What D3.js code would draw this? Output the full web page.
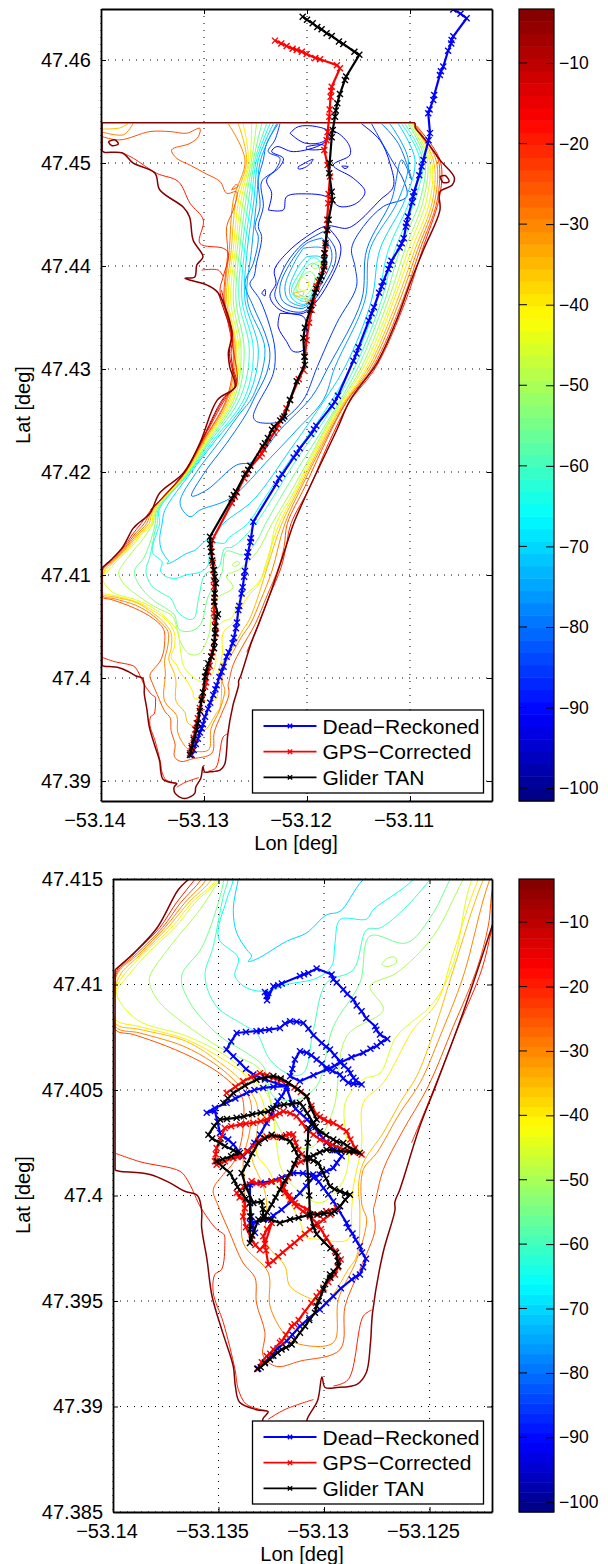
<!DOCTYPE html>
<html lang="en">
<head>
  <meta charset="UTF-8">
  <title>Glider TAN tracks over bathymetry</title>
  <script src="https://d3js.org/d3.v7.min.js"></script>
  <style>
    body, html { margin: 0; padding: 0; background: #fff; }
    svg { display: block; }
    text { font-family: 'Liberation Sans', Arial, sans-serif; fill: #000; }
    .axis path { stroke: #000; stroke-width: 1.8; fill: none; }
    .axis line { stroke: #000; stroke-width: 1; }
    .grid line { stroke: #000; stroke-width: 1; stroke-dasharray: 1,6; }
    .contour { fill: none; stroke-linejoin: round; }
    .track { fill: none; stroke-linejoin: round; stroke-width: 2.2; }
    .mark { fill: none; stroke-width: 1.4; }
  </style>
</head>
<body>
<svg width="608" height="1564"></svg>
<script>
// all positions are offsets from this origin, in units of 1e-4 degrees
const lon0 = -53.14, lat0 = 47.39;

const topXTicks = [-53.14, -53.13, -53.12, -53.11];
const topYTicks = [47.39, 47.40, 47.41, 47.42, 47.43, 47.44, 47.45, 47.46];
const lowXTicks = [-53.14, -53.135, -53.13, -53.125];
const lowYTicks = [47.385, 47.39, 47.395, 47.40, 47.405, 47.41, 47.415];
const barTicks = [-10, -20, -30, -40, -50, -60, -70, -80, -90, -100];
const legendNames = ["Dead\u2212Reckoned", "GPS\u2212Corrected", "Glider TAN"];
const trackColors = ["#0000ff", "#ff0000", "#000000"];

// depth contours
const shoreTop = [[1,612],[1,630],[1,638],[1.5,639],[3,639],[150,639],[302,639],[304.5,639],[305,638],[305,634]];
const shore = [[305,634],[316.5,620.4],[329,603],[343,586],[341,578.6],[329,572],[329,554],[313,515.5],[300,483],[287,447.6],[268,406],[242,370],[229,341],[200,279.6],[187,250],[179.6,227.6],[166,187],[153.5,153.5],[145.5,133],[136,103],[133.6,97],[133.6,93],[128,73],[123,44.5],[122,30],[120,16],[115.6,10.5],[106,9],[100.5,9],[99,14],[97,3],[92,-6],[91,-12],[81,-17],[72,-12],[71,-6],[73.5,-2.5],[68,-1.5],[60,2],[58,9.5],[57,19],[52,35],[47,52],[44.5,70],[42,85],[42,93],[40,100],[34,102],[27,106],[17.5,110],[3,111.5],[1,112]];
const shoreEdge = [[1,112],[1,207]];
const shoreWest = [[1,207],[10,215],[21,227],[31,245],[36,250],[47.6,260],[57,279.6],[80,299],[96,328],[113,370],[130,382.5],[125,402],[123.6,415.5],[127,435],[113.6,474],[103,481.5],[81.5,488],[91,489.3],[93,501],[99,509],[89.5,525],[86,547.6],[80,557],[57,574],[52.4,590],[31,600],[21,609.7],[3,610.5],[1,612]];
const shorePond1 = [[7,620.7],[13.6,622.4],[16.8,618.5],[10.3,616.9],[7,620.7]];
const shorePond2 = [[329,586.8],[334,587.8],[338,582],[332.3,581],[329,586.8]];
const c10 = [[113.9,473.5],[120.4,454],[126.8,434.7],[124.6,415.3],[126.8,402.3],[130.7,383],[118.7,371.6],[96.4,328],[80.2,298.7],[47.9,263]];
const c15 = [[117,476.8],[122,454],[127.8,434.7],[126.2,415.3],[127.8,402.3],[131.7,384.5],[120.4,372.6],[96.7,328],[80.9,298.7],[48.2,263]];
const c20a = [[21.7,609.4],[31.4,604.6],[54,590],[75,582],[86.4,561],[99.3,544.7],[96,522],[118.7,517.2],[123.6,512.4],[118.7,489.7],[115.5,476.8],[122,450.9],[128.4,418.5],[131.7,386],[122,373.2],[97,328],[80.6,299],[48.5,263],[38.8,249.8],[30,238.7],[22.2,227],[10.4,215],[1,205],[1,178]];
const c20b = [[1.2,120],[12.8,116],[31.7,111.5],[35.2,107.5],[38,102],[41.2,95],[49.1,84],[52.6,81.5],[53,77.6],[51.5,65],[48.3,62.6],[47.5,54],[52.3,39.7],[57.8,17.6],[59.4,8],[63.3,1],[72.8,-2]];
const c20c = [[73.6,-6],[81.5,-1.4],[95,3.3]];
const c20d = [[104.4,9.7],[111.5,12.8],[118.6,42.8],[122.6,45.7]];
const c20e = [[141.5,125],[149.4,143.9],[163.7,180],[174.7,207],[179.4,226],[184.5,250],[203,285.8],[221,328],[241.5,368.3],[267,402],[296,467],[312,516],[328,564],[331,590],[329,603],[322,616],[306.5,636]];
const c20f = [[97.7,496],[113.9,496],[118.7,489.7]];
const c25a = [[1.3,625.6],[18.4,622.4],[47.5,630.5],[67,630.5],[83.1,628.9],[96,633.7],[94.5,625.6],[86.4,619],[68.6,612.7],[73.4,604.6],[86.4,598],[101,590],[115.5,582],[122,570.6],[131.7,572],[128.4,554.4],[122,538.3],[123,514],[119.4,467],[128.4,419],[122.6,373],[97.7,328],[80.9,299],[49,263],[42,250],[32,238.7],[23.5,227],[11.6,215],[2,206],[1,200],[1.2,178.6],[9.6,176.3],[25.4,170.8],[41.2,163.6],[52.3,156.5],[61,147],[61.7,132.8],[60.2,123.4],[57,115.5],[52.3,110],[47.5,102.8],[49.9,95],[54.6,84],[61.7,68],[67.3,61],[68,49],[72,35],[71.2,23.9],[77.5,19],[88.6,21.5],[107.6,27],[110,47.6],[117,65],[124.2,84],[123.4,93.4],[124.2,96.5],[128.1,112.3],[136.8,129.7],[149.4,151.8],[161.3,180.2],[172.3,207],[177.8,227.6],[180.9,250],[198,285.8],[217.4,328],[238.5,368.3],[264,402],[293,467],[309.7,516],[326.5,564],[327.5,603],[319.4,616],[308,630],[305,638]];
const c25b = [[126.8,573.8],[133.3,577.7],[131,579],[126.8,573.8]];
const c30a = [[123.6,638],[139.8,603],[128.4,564],[124.6,516],[120.4,467],[129.4,419],[123.6,373],[98,328],[81.2,299],[49.5,263],[44.4,250],[34,238.7],[24.6,227],[12.8,215],[3.3,207],[1,202],[1.2,180],[12.8,177],[33.3,170.8],[47.5,162.9],[57,155],[64.9,145.5],[64.9,131.2],[61.7,117],[62.5,104.4],[61.7,77.6],[73.6,63.4],[74.4,47.6],[80.7,35],[86.2,30.2],[104.4,30.2],[106.8,50.7],[115.5,69.7],[120.2,88.7],[118.6,93.4],[117.8,96.5],[118.6,112.3],[125,120.2],[136,139.2],[145.5,153.4],[155,175.5],[166,204],[178.6,250],[196.4,289],[214.2,324.6],[236.9,366.7],[262,402],[290.2,467],[307.4,516],[324.2,564],[325.2,603],[304,638]];
const c30b = [[1.3,630],[22,627.5],[31,638]];
const c35 = [[133.3,638],[141.4,603],[131,564],[126.5,516],[122,467],[130.7,419],[125.2,373],[99,328],[81.9,299],[50.5,263],[46.7,250],[35.7,238.7],[26,227],[14,215],[4,205.5],[1,198],[1.2,181.5],[12.8,178.7],[34.9,173],[50.7,162.9],[60.2,155],[68,143.9],[68,128.1],[65.7,118.6],[71.2,104.4],[72.8,96.5],[72.8,77.6],[81.5,66.5],[83.9,57],[95,50.7],[101.2,50],[111.5,65],[115.5,71.3],[117,93.4],[116.3,104.4],[118.6,115.5],[128.1,129.7],[136,143.9],[143.9,156.5],[151.8,177],[161.3,207],[175.5,249.8],[193.2,285.8],[211,321.4],[233.6,363.4],[260,402],[287.7,467],[304.8,516],[322,564],[322.6,603],[303,638]];
const c35b = [[1.3,633],[18,634],[26,638]];
const c35c = [[186.7,473.5],[196.4,475],[196.4,471.9],[188.3,471],[186.7,473.5]];
const c35d = [[198,468.7],[201.3,467],[199.6,464.5],[198,468.7]];
const c40 = [[138,638],[143,603],[133.6,564],[128.4,516],[123.6,467],[132,419],[126.8,373],[100,328],[82.5,299],[51.4,263],[49,250],[37.2,238.7],[27.8,227],[15,215],[3.3,202],[1,195],[1.2,183.4],[12.8,180],[34.9,173.9],[52.3,164.4],[63.3,156.5],[71.2,143.9],[71.2,129.7],[68,120.2],[73.6,112.3],[77.5,104.4],[83.9,96.5],[89.4,85.5],[90.2,80.8],[98,79.2],[111.5,79.2],[113.1,93.4],[113.9,104.4],[117.8,123.4],[118.6,143.9],[128.1,153.4],[142.3,178.7],[153.4,191.3],[161.3,215],[173.1,249.8],[190,282.5],[207.7,318],[230.4,360],[258,402],[284.4,467],[301.6,516],[319.4,564],[320.7,603],[303,638]];
const c45a = [[146.2,638],[144.6,603],[135.9,564],[130.4,516],[125.9,467],[134,419],[128.4,373],[101,328],[83.1,299],[52.4,263],[50,250],[38.8,238.7],[29.4,227],[16.7,215],[5.7,202.4],[1.7,196],[11.2,183.4],[35,175.5],[53.8,166],[65,156.5],[74.4,145.5],[77,128],[80,112],[87,103],[98,96.5],[107.6,104.4],[111.5,115.5],[110,143.9],[118.6,155],[126.5,158],[134.4,175.5],[151.8,191.3],[161.3,210],[170,249.8],[186.7,279.3],[204.5,314.9],[227.2,357],[255.3,402],[282.2,467],[298.3,516],[316,564],[318.7,603],[301.6,638]];
const c45b = [[194.8,489.7],[191.6,478.4],[199.6,476.8],[201.3,484.9],[194.8,489.7]];
const c50a = [[151,638],[146.2,603],[138.2,564],[132.3,516],[128.4,467],[136,419],[130,373],[102.2,328],[83.8,299],[53.4,263],[50.7,250],[47.5,245],[41.2,235.5],[27,218],[17.5,204],[17.5,200],[22.2,191.3],[47.5,172],[58.6,166],[69.6,159.7],[77.5,134.4],[85.4,123.4],[95,123.4],[104.4,140.7],[110.7,175.5],[128.1,188],[121.8,199.2],[134.4,205.5],[151.8,223],[166,249.8],[183.5,279.3],[201.3,311.7],[224,353.7],[253,402],[279,467],[295,516],[313,564],[316.8,603],[300,638]];
const c50b = [[127.3,209.5],[129.7,212.2],[133.6,213],[134.4,210.6],[129.7,208.4],[127.3,209.5]];
const c50c = [[204.5,501],[212.6,504.3],[212.6,499.4],[206,497.8],[204.5,501]];
const c55a = [[156,638],[147.9,603],[140.7,564],[134.6,516],[131,467],[139,419],[132.3,373],[103.5,328],[84.4,299],[54.3,263],[52.6,250],[49.9,238.7],[42,217.4],[32.5,204],[36.5,191.3],[50.7,175.5],[63.3,167.6],[71.2,161.3],[76,147],[87,145.5],[96.5,151.8],[104.4,180],[117,200.8],[121.8,223],[139.2,219.7],[151.8,234],[159.7,249.8],[178.6,282.5],[196.4,311.7],[220.7,350.5],[249.8,402],[275.7,467],[290.2,516],[309.7,564],[314.5,603],[298.3,638]];
const c55b = [[196.4,491.3],[189.3,478.4],[196.4,470.3],[203.8,476.8],[207.7,489.7],[202.9,494.6],[196.4,491.3]];
const c60a = [[160.8,638],[149.5,603],[143.3,564],[136.9,516],[134,467],[144,419],[135.6,373],[105,328],[85.1,299],[55.3,263],[54.6,250],[52.3,242],[47.5,218],[43.6,204],[49,189.7],[61.7,181],[68,177],[74.4,164.4],[83.9,157.3],[90.2,158],[95,178.7],[101.2,200.8],[113.9,207],[120.2,226],[126.5,226.8],[136,234],[150.2,249.8],[167.3,276],[191.6,314.9],[215.8,348.9],[246.6,402],[272.4,467],[285.4,516],[304.8,564],[312.3,603],[295,638]];
const c60b = [[199.6,499.4],[190.6,483.2],[187.3,473.5],[198,468],[205.5,475],[212,497.8],[206,502.7],[199.6,499.4]];
const c65a = [[164,638],[151,603],[145.9,564],[139.4,516],[136.9,467],[147.9,419],[139.8,373],[107,328],[85.7,299],[56.3,263],[57,250],[53.8,240],[50,222],[59.4,212.6],[57.8,204],[63.3,198.4],[72.8,196.8],[82.3,200],[96.5,203],[103.6,208.7],[105.2,219.7],[107.6,230.8],[120.2,231],[123.4,235.5],[142.3,249.8],[157.6,272.8],[183.5,311.7],[209.3,347.2],[242.7,402],[268.2,467],[279,516],[300,564],[309.7,603],[291.9,638]];
const c65b = [[202.9,507.5],[194.8,496.2],[185,475],[198,465.4],[206,473.5],[214.2,499.4],[209.3,507.5],[202.9,507.5]];
const c70a = [[167.3,638],[152.7,603],[148.5,564],[142,516],[139.8,467],[152.7,419],[143,373],[109,328],[87,299],[62,263],[59.4,250],[57,235.5],[58.6,224.5],[63.3,216.6],[65.7,213.4],[64,211],[68,212],[82.3,220.5],[91.8,224.5],[101.2,233],[107.6,234.7],[118.6,249.8],[147.9,272.8],[183.5,321.4],[206,353.7],[236.9,402],[262.7,467],[270.8,516],[295,564],[304.8,603],[288.6,638]];
const c70b = [[199.6,509],[191.6,499.4],[182.8,476.8],[186.7,467],[198,463],[209.3,480],[215.8,502.7],[212.6,509],[199.6,509]];
const c75a = [[170.5,638],[155,603],[151.1,564],[146.2,516],[142,467],[159.2,419],[147.2,373],[135,357],[113.9,328],[91.9,298.7],[76.7,269.6],[86.4,256.6],[96,263],[125.2,274.4],[164,313.3],[190,340.8],[215.8,370],[227.2,402],[256.3,467],[261.1,516],[288.6,564],[298.3,603],[280.5,638]];
const c75b = [[196.4,517.2],[188.3,504.3],[178.6,480],[181.8,467],[196.4,461.2],[204.5,468.7],[214.2,488],[219,505.9],[215.8,517.2],[196.4,517.2]];
const c80a = [[172,638],[160.8,619],[157.6,603],[152.7,583.6],[154.4,557.7],[149.5,538],[152.7,528.5],[147.9,502.7],[139.8,483.2],[147.9,460.6],[159.2,434.7],[164,415.3],[160.8,395.9],[149.5,373],[141.4,357],[122,328],[100,298.7],[88,276.7],[102.6,282.5],[131.7,306.8],[148,310],[173.7,340.8],[204.5,373],[220.7,402],[253,467],[258,516],[282,564],[291.9,603],[301.6,583.6],[288.6,619],[272.5,638]];
const c80b = [[214.2,527],[199.6,522],[186.7,507.5],[173.7,480],[177,465.4],[196.4,459],[204.5,467],[215.8,486.5],[224,505.9],[222.3,518.8],[214.2,527]];
const c85a = [[262.7,638],[282.2,603],[293.5,583.6],[296.7,567.4],[274,557.7],[254.7,538.3],[243.3,517],[246.6,499.4],[248,480],[228.8,444.4],[210,402.3],[196.4,370],[178.6,352],[170.5,348],[151,349],[147.9,353.7],[151,363.4],[154.4,370],[167.3,395.8],[168.9,418.5],[164,441],[154.4,467],[144.6,483],[148.5,489.7],[151,502.7],[156,528.5],[152.7,538.3],[157.6,557.7],[156,581.9],[168.9,593],[173.7,604.6],[162.4,611],[168.9,622.4],[173.7,638]];
const c85b = [[215.8,533.4],[196.4,522],[180.2,502.7],[170.5,480],[168.9,470.3],[177,459],[196.4,455.7],[206,465.4],[217.4,483.2],[227.2,502.7],[227.2,517.2],[215.8,533.4]];
const c90a = [[253,638],[270.9,622],[280.5,599.7],[283.8,577],[270.9,564],[248,541.5],[238.5,536.6],[219,538.9],[199.6,528.5],[180.2,512.4],[168.3,496],[169.9,483.2],[164,470.3],[173.7,457.4],[196.4,454.1],[207.7,463.8],[220.7,483.2],[232,509],[232,522],[219,538.9]];
const c90b = [[162.4,554.4],[177,554.4],[180.2,567.4],[199.6,570],[219,567.4],[232,557.7],[248,560.9],[256.3,572],[245,585.2],[225.5,598],[241.7,607.8],[240,619],[225.5,630.5],[215.8,619],[186.7,611],[170.5,615.9],[165.7,611],[177,604.6],[173.7,596.5],[160.8,583.6],[165.7,570.6],[162.4,554.4]];
const c90c = [[183.5,628.9],[191.6,635.3],[209.3,635.3],[220.7,630.5],[215.8,620.8],[199.6,619],[191.6,622.4],[183.5,628.9]];
const c90d = [[199.6,615.9],[215.8,617.5],[217.4,614.3],[199.6,613.6],[199.6,615.9]];
const c90e = [[191.6,596.5],[206,603.6],[199.6,596.5],[191.6,594.2],[191.6,596.5]];
const c90f = [[233.6,597],[240,596.5],[236.9,594.6],[233.6,597]];
const c90g = [[156,473.5],[159.2,477.4],[159.2,471],[156,473.5]];
const c90h = [[173.7,454],[172,441],[180.2,426.6],[186.7,417],[196.4,418.5],[199.6,441],[196.4,450.9],[173.7,454]];

const contours = [
  [-90, c90a], [-90, c90b], [-90, c90c], [-90, c90d], [-90, c90e], [-90, c90f], [-90, c90g], [-90, c90h],
  [-85, c85a], [-85, c85b], [-80, c80a], [-80, c80b], [-75, c75a], [-75, c75b],
  [-70, c70a], [-70, c70b], [-65, c65a], [-65, c65b], [-60, c60a], [-60, c60b],
  [-55, c55a], [-55, c55b], [-50, c50a], [-50, c50b], [-50, c50c], [-45, c45a], [-45, c45b],
  [-40, c40], [-35, c35], [-35, c35b], [-35, c35c], [-35, c35d], [-30, c30a], [-30, c30b],
  [-25, c25a], [-25, c25b], [-20, c20a], [-20, c20b], [-20, c20c], [-20, c20d], [-20, c20e], [-20, c20f],
  [-15, c15], [-10, c10], [-3.5, shoreTop], [-3.5, shore], [-3.5, shoreEdge], [-3.5, shoreWest], [-3.5, shorePond1], [-3.5, shorePond2]
];

// upper map tracks
const topDead = [[88,25.3],[90,30],[92,36],[94,41],[96,47],[97.7,51],[99,55],[101,62.5],[104,70],[106,76],[109,83.5],[111,89],[112.3,93],[115,101],[117,106],[119,111],[122,120.7],[124,125],[127.8,133.7],[129,139],[131,148.2],[132,154],[133.3,166],[134.2,170],[136.5,182],[137.5,188],[139,198.4],[139.8,204],[142,217.8],[142.8,222],[145,232],[145.6,235.6],[147.9,251.8],[170,288],[173,293.8],[176,298],[187,314],[190,318],[193,323],[204,337],[206.8,341.4],[209,345],[224,364],[227,368.3],[230,374],[245,408],[248,415],[250,421],[260,447],[262.7,454],[265,460],[270,474],[272.4,480],[274,485],[279,497],[280.5,501],[282,505],[290,518],[292,522],[294,527],[296,538],[296.7,541.5],[298,548],[302,562],[303,567.4],[304,572],[309,588],[311.3,596.5],[313,603],[318,622],[319.4,629],[317.7,648.3],[319,652],[322.6,661.2],[323.5,666],[329,685.5],[330,689],[332.3,693.6],[337,709],[340,716],[340.4,719.5],[342,723],[355,740.5],[349,745],[342,749]];
const topGps = [[86.4,27],[88,34],[90,42],[91.5,50],[92.9,56],[94,61],[96,71],[98,80],[101,91.6],[102,96],[104,106],[105.5,112],[107.4,120.7],[108,125],[110,135],[111.6,143.4],[111,150],[110.5,156],[109.7,162.8],[110,170],[110,178],[109.7,188.7],[109.5,195],[109,204.9],[108.5,212],[107.4,222.6],[108,234],[127,270],[130,276],[132,280],[139,294],[141.4,298.7],[143,302],[154,315],[156,318],[158,322],[168,338],[170.5,342.4],[172,346],[180,362],[183.5,370],[192,390],[196.4,399],[198,412],[199.6,428],[202,445],[204.5,457.4],[206,464],[209.3,480],[211,485],[215.8,496],[216.5,502],[217.4,512.4],[218,520],[219,535],[219.5,545],[220.7,561],[221,570],[222.3,586.8],[220,598],[216.8,612.7],[219,622],[220,630],[221.6,645],[222,652],[222.9,664.4],[223.5,670],[224,674],[232,692],[229,695],[212.6,700.7],[208,702],[199.6,705.9],[195,708],[190,709.8],[186,711],[180.2,713.6],[175,716],[168.9,718.8]];
const topTan = [[86.4,25.3],[88,32],[90,40],[92.9,49.5],[94,56],[96,68],[97.7,78.7],[99,86],[101,101.3],[102,106],[104.2,114.2],[107,121],[109.7,128.8],[110,135],[110.7,143.4],[111,150],[112.3,159.6],[113.5,162],[110,174.1],[110.5,182],[111.6,192],[110.5,198],[109.7,204.9],[108,214],[106.8,222.6],[106,230],[105.8,237.2],[127,274],[129,277.7],[131,281],[140,298],[143,302],[145,306],[157,325],[159.2,328],[162,333],[166,341],[168,344],[174,350],[176.3,352],[178,354],[183.5,370],[190,388],[198,404],[197.5,412],[196.4,430],[198,440],[203,457.4],[204,462],[207.7,474],[209,478],[212.6,486.5],[214,490],[216.8,499.4],[216.8,506],[216.8,512.4],[218,522],[219.7,535],[221,545],[224.6,564],[224,572],[221.6,590],[222,600],[224,625],[225,632],[227.2,645],[228,651],[229.4,658],[232,667],[236.8,680.6],[238,684],[250.8,705],[246,708],[235.2,715.6],[231,718],[224,723.3],[219,726],[214.2,729.8],[210,732],[205.5,735.6],[200,739],[195.8,742]];

// lower map tracks
const lowDead = [[72.8,194.5],[73.6,196],[72,196.4],[73,192.5],[76,199.2],[78.3,199.7],[80,200.5],[88.6,204],[90.5,204.8],[92.6,205.5],[96.5,207.6],[103.6,204.7],[104.4,202.4],[106,201],[109.1,197.6],[111,195.5],[113.9,192.9],[115.5,190],[117.8,187.3],[120,184],[124.2,180.2],[124.8,178.5],[126.5,176.3],[130,174.2],[127,172.5],[125,170.8],[122,169.5],[118.6,167.6],[113,165.5],[107.6,162.9],[105,161.5],[101.2,159.7],[95,157],[88.6,154.2],[83.9,156.5],[85,160],[86.2,164.4],[88.6,168.4],[91.8,167.6],[94,166.5],[96.5,164.4],[99,162.5],[101.2,160.5],[104,159],[107.6,157.3],[109,155.5],[111.5,153.4],[114,152.9],[117.8,152.6],[115,154.5],[113.9,155.8],[112.5,158],[111.5,159.7],[109.5,161.5],[107.6,163.6],[105,166.5],[102.8,169.2],[101,170.5],[98.9,172.3],[95,176],[92.6,179],[90.2,181.8],[87,182.3],[83.9,182.6],[81.5,181.5],[79.1,179.4],[74,178.6],[70,178.1],[68,177.9],[63,177.5],[58.6,177],[56,173],[53.8,169.2],[57,166],[60.2,162.9],[63,160],[66.5,157.3],[72,155],[78,153],[82.3,151.8],[76,151.5],[71.2,151],[67,150],[63.3,148.6],[58,146],[53.8,143.9],[48.3,141.5],[44.4,139.2],[48.3,140],[49.5,135],[50.7,129.7],[52,128],[54.6,126.5],[57,124.2],[59.5,121],[61.7,118.6],[64,121],[67,125],[69.6,128.9],[72.8,134.4],[75,138],[76,141.5],[78,144.5],[79.9,147],[82.3,151],[84.7,143.9],[86.5,141],[88.6,139.2],[92,136],[94.9,132.8],[98,129],[101.2,125],[105,121.5],[108.4,118.6],[106,115.5],[104.4,113],[101.2,111.5],[98,110],[94.9,108.4],[91.5,104.5],[88.6,101.2],[84.7,97.3],[79.9,93.3],[76,90.5],[73.6,88.6],[68,87.5],[64.9,87],[67.3,82.3],[65.5,90],[64.9,96.5],[64.9,105.2],[70,106],[75.2,106.8],[80,108.5],[85.4,110.7],[90,110.5],[94.9,110],[97.5,106.5],[99.7,103.6],[102,100.5],[104.4,97.3],[107,93],[110.7,87],[111.5,84.7],[113.5,82],[115,79],[117,76],[118,73],[119.9,70],[118.5,66],[117,62.6],[115,61.5],[113.1,60.2],[108,56],[104.4,52.3],[101,49],[98,46],[93,42],[88.6,38],[85,34],[82.3,31],[78,27.5],[75,24],[72,21],[68.8,17.9]];
const lowGps = [[68.4,17.8],[70.5,21],[72.8,23.9],[74.5,25],[76,27],[79.1,30.2],[80,31],[82,34],[84.7,38],[86,39],[88,41],[91,45.2],[94,49],[96.5,52.3],[98,54],[99.7,56.3],[102,59],[105.2,62.6],[106.5,66],[107.9,69.7],[106.5,71.5],[105.2,73.6],[101,80],[98.5,84],[96.5,87],[93.3,90.1],[90,92.5],[87,94.9],[84,98],[81.5,101.2],[80.5,104],[79.1,107.5],[75,106.5],[71.2,105.1],[68,105.8],[65.7,106.7],[62,104],[58.6,101.2],[60,99],[62.5,98],[62.5,94],[61.7,90.1],[63,85],[65.7,79.1],[67.5,76.5],[69.6,74.3],[72,77],[75.2,87],[73,84],[71.2,80.7],[72.5,74],[73.6,67.2],[76,69],[78.3,71.2],[80.5,73],[83.9,75.9],[86,77.5],[88.6,79.9],[91,81.8],[93.3,83.8],[96,85.5],[99.7,88.6],[103,91],[106,94.1],[101,92.5],[96.5,90.9],[92,93.5],[86.2,96.5],[83.5,100],[80.7,103.6],[83,108.5],[86.2,114.6],[89,116],[91.8,117],[89.5,119.5],[87.8,121.7],[86.5,125],[85.4,128.9],[83.5,129],[82,128.5],[79.1,127.7],[76,127.8],[72.8,128],[69,126],[66.5,123.3],[63.5,121],[61,118.6],[59,118.2],[57,117.8],[53,116.2],[49.1,114.6],[48.3,116.2],[48.7,119.5],[49.1,122.5],[51,127],[53,132],[56,132.8],[60.2,133.6],[63,134],[66.5,134.4],[70,135.2],[72.8,136],[75,137],[77,138],[79,139],[80.7,139.9],[84,139],[87,137.5],[89.5,134.5],[91.8,131.2],[95,128.8],[98.1,126.5],[101,125.5],[104,124],[107.6,122.5],[111,121.5],[114,120.5],[117.8,119.4],[114.7,122.5],[112.5,126.5],[110.7,130.4],[107.5,132.5],[104.4,134.4],[102,135],[100,136],[98,137.2],[96.5,138.3],[94,142.5],[91.8,147],[89,149],[86,151.2],[83.1,153.3],[79.5,154.5],[76,155.7],[73,157],[69.6,158],[65.5,156],[61.7,154.1],[58,151.5],[53.8,148.6]];
const lowTan = [[68.4,17.9],[70,18.6],[72,20.5],[74.4,22.3],[76,24],[78,25.5],[79.9,27],[82,28],[84.7,29.4],[86,31.5],[88.6,35],[91,38],[93,41],[95.7,44.4],[96.5,47.6],[97.5,50],[99.7,55.5],[100.5,58],[102.8,62.6],[103,61],[104.5,64],[106.8,66.5],[106.5,69],[105.7,72.9],[103,75],[100,78],[96.5,81.6],[95,85],[93.3,90.9],[97,91],[100,91.5],[103.6,91.7],[105,92.5],[107.6,94.9],[110,98],[112.3,100.4],[110,101],[107.6,102],[105,103],[102.8,104.4],[101,108],[99,112],[97.3,115.4],[95,116.5],[91.8,117.8],[95,119],[98,120.5],[101.2,121.7],[104,121.5],[108,121],[112,120.7],[117,120.2],[114,121.7],[111,123.5],[109.1,124.9],[106,125.5],[104.4,126.5],[101,128.5],[98.1,130.4],[96,132.5],[94.9,134.4],[92,139],[90,142],[88.6,143.9],[85,143.5],[81,143],[77.5,142.3],[75,141],[73.6,139.9],[70,139.2],[66,138.5],[62,137.5],[58.6,136.8],[54,136.3],[50.7,136],[48,133],[45.2,128.8],[47,127],[50.7,124.9],[53,123.5],[57,121.5],[60.2,120.2],[56,118.6],[52,117.2],[49.1,116.2],[52,113.5],[55.4,110.7],[57.5,107],[59,104],[61,101.2],[63,98.5],[64.9,96.5],[65,90],[65,84],[64.9,77.5],[66,81],[68.9,88.6],[71.2,88.6],[73,92],[75.2,95.7],[77,99],[79.1,102.8],[81.5,107],[83.9,110.7],[86,115],[87.8,118.6],[86,122],[83.9,125.7],[80,127.5],[75.2,128.8],[72,127],[68.9,124.9],[66,120],[63.5,115],[61,110.7],[63,104],[66.5,96.5],[70.4,97.2],[71,93.5],[71.2,90.1],[75,88.5],[79.1,87],[83.9,88.6],[88,89.5],[93.3,90.9],[93,100],[92.5,108],[91.8,117.8],[92.3,125],[92.6,132],[94.5,134],[96.5,136],[94,141],[91.8,147],[87.5,150.5],[83.1,153.3],[79.5,155.5],[76,156.5],[72,155.8],[68,154.9],[62.5,152],[57,148.6],[54.5,146],[52.3,143.9]];

const svg = d3.select("svg");

// jet colormap over the colorbar range
const depthMin = -101.6, depthMax = -3.3;
const jetStops = d3.scaleLinear()
  .domain([0, 0.11, 0.36, 0.61, 0.86, 1])
  .range(["#00007f", "#0000ff", "#00ffff", "#ffff00", "#ff0000", "#7f0000"]);
const jet = d => jetStops((d - depthMin) / (depthMax - depthMin));

const minus = v => String(v).replace("-", "\u2212");

function drawPanel(p) {
  const x = d3.scaleLinear().domain(p.lonDomain).range([p.left, p.right]);
  const y = d3.scaleLinear().domain(p.latDomain).range([p.bottom, p.top]);
  const line = d3.line().x(d => x(lon0 + d[0] / 1e4)).y(d => y(lat0 + d[1] / 1e4));
  const smooth = d3.line().curve(d3.curveCatmullRom.alpha(0.5))
    .x(d => x(lon0 + d[0] / 1e4)).y(d => y(lat0 + d[1] / 1e4));

  svg.append("clipPath").attr("id", p.id)
    .append("rect")
    .attr("x", p.left).attr("y", p.top)
    .attr("width", p.right - p.left).attr("height", p.bottom - p.top);

  // grid
  const grid = svg.append("g").attr("class", "grid");
  grid.selectAll(".gx").data(p.xTicks).enter().append("line")
    .attr("x1", d => x(d)).attr("x2", d => x(d)).attr("y1", p.top).attr("y2", p.bottom);
  grid.selectAll(".gy").data(p.yTicks).enter().append("line")
    .attr("y1", d => y(d)).attr("y2", d => y(d)).attr("x1", p.left).attr("x2", p.right);

  const plot = svg.append("g").attr("clip-path", `url(#${p.id})`);

  plot.selectAll(".contour").data(contours).enter().append("path")
    .attr("class", "contour")
    .attr("stroke", d => d[0] > -5 ? "#850000" : jet(d[0]))
    .attr("stroke-width", d => d[0] > -5 ? 1.5 : 1)
    .attr("d", d => (d[1] === shoreTop || d[1] === shoreEdge) ? line(d[1]) : smooth(d[1]));

  p.tracks.forEach((t, i) => {
    plot.append("path").attr("class", "track").attr("stroke", trackColors[i]).attr("d", line(t));
    plot.append("g").selectAll("path").data(t).enter().append("path")
      .attr("class", "mark")
      .attr("stroke", trackColors[i])
      .attr("d", "M-3,-3L3,3M-3,3L3,-3")
      .attr("transform", d => `translate(${x(lon0 + d[0] / 1e4)},${y(lat0 + d[1] / 1e4)})`);
  });

  // axes, ticks point inwards on all four sides
  const bottom = svg.append("g").attr("class", "axis").attr("transform", `translate(0,${p.bottom})`)
    .call(d3.axisBottom(x).tickValues(p.xTicks).tickSizeInner(-5).tickSizeOuter(0).tickFormat(minus));
  bottom.selectAll("text").attr("font-size", 20).attr("dx", -6.5).attr("dy", 9).attr("y", 16.5);
  const left = svg.append("g").attr("class", "axis").attr("transform", `translate(${p.left},0)`)
    .call(d3.axisLeft(y).tickValues(p.yTicks).tickSizeInner(-5).tickSizeOuter(0).tickFormat(d => +d.toFixed(3)));
  left.selectAll("text").attr("font-size", 20).attr("x", -10);
  svg.append("g").attr("class", "axis").attr("transform", `translate(0,${p.top})`)
    .call(d3.axisTop(x).tickValues(p.xTicks).tickSizeInner(-5).tickSizeOuter(0).tickFormat(""));
  svg.append("g").attr("class", "axis").attr("transform", `translate(${p.right},0)`)
    .call(d3.axisRight(y).tickValues(p.yTicks).tickSizeInner(-5).tickSizeOuter(0).tickFormat(""));

  svg.append("text").attr("x", p.xLabelX).attr("y", p.bottom + 49).attr("text-anchor", "middle")
    .attr("font-size", 20).text("Lon [deg]");
  svg.append("text").attr("transform", `translate(30,${p.yLabelY}) rotate(-90)`)
    .attr("text-anchor", "middle").attr("font-size", 20).text("Lat [deg]");

  // legend
  const lg = svg.append("g").attr("transform", `translate(252.5,${p.legendTop})`);
  lg.append("rect").attr("width", 231).attr("height", 83).attr("fill", "#fff").attr("stroke", "#000").attr("stroke-width", 1.3);
  legendNames.forEach((name, i) => {
    const row = 16 + i * 25.7;
    lg.append("line").attr("x1", 11).attr("x2", 64).attr("y1", row).attr("y2", row)
      .attr("stroke", trackColors[i]).attr("stroke-width", 1.8);
    lg.append("path").attr("class", "mark").attr("stroke", trackColors[i])
      .attr("d", "M-2.2,-2.2L2.2,2.2M-2.2,2.2L2.2,-2.2")
      .attr("transform", `translate(37.5,${row})`);
    lg.append("text").attr("x", 70).attr("y", row + 7.5).attr("font-size", 21).text(name);
  });

  // colorbar
  const bar = d3.scaleLinear().domain([depthMin, depthMax]).range([p.bottom, p.top]);
  const bands = d3.range(64);
  const barX = 519, barW = 35;
  const cb = svg.append("g");
  cb.selectAll("rect").data(bands).enter().append("rect")
    .attr("x", barX).attr("width", barW)
    .attr("y", d => bar(depthMin + (d + 1) / 64 * (depthMax - depthMin)))
    .attr("height", (p.bottom - p.top) / 64 + 0.5)
    .attr("fill", d => jetStops((d + 0.5) / 64));
  cb.append("rect").attr("x", barX).attr("y", p.top).attr("width", barW).attr("height", p.bottom - p.top)
    .attr("fill", "none").attr("stroke", "#000").attr("stroke-width", 1.2);
  const barAxis = cb.append("g").attr("transform", `translate(${barX + barW},0)`)
    .call(d3.axisRight(bar).tickValues(barTicks).tickSizeInner(-8).tickSizeOuter(0).tickFormat(minus));
  barAxis.select(".domain").remove();
  barAxis.selectAll("line").attr("stroke", "#000");
  barAxis.selectAll("text").attr("font-size", 17.5).attr("x", 5);
  cb.append("g").selectAll("line").data(barTicks).enter().append("line")
    .attr("x1", barX).attr("x2", barX + 8).attr("y1", d => bar(d)).attr("y2", d => bar(d)).attr("stroke", "#000");
}

drawPanel({
  id: "clipTop", left: 101, right: 492, top: 9, bottom: 801,
  lonDomain: [-53.14, -53.10204], latDomain: [47.38806, 47.46495],
  xTicks: topXTicks, yTicks: topYTicks,
  tracks: [topDead, topGps, topTan],
  xLabelX: 296, yLabelY: 405, legendTop: 710
});
drawPanel({
  id: "clipLow", left: 113, right: 492, top: 879, bottom: 1512,
  lonDomain: [-53.14, -53.12204], latDomain: [47.385, 47.415],
  xTicks: lowXTicks, yTicks: lowYTicks,
  tracks: [lowDead, lowGps, lowTan],
  xLabelX: 302, yLabelY: 1195, legendTop: 1421
});
</script>
</body>
</html>
